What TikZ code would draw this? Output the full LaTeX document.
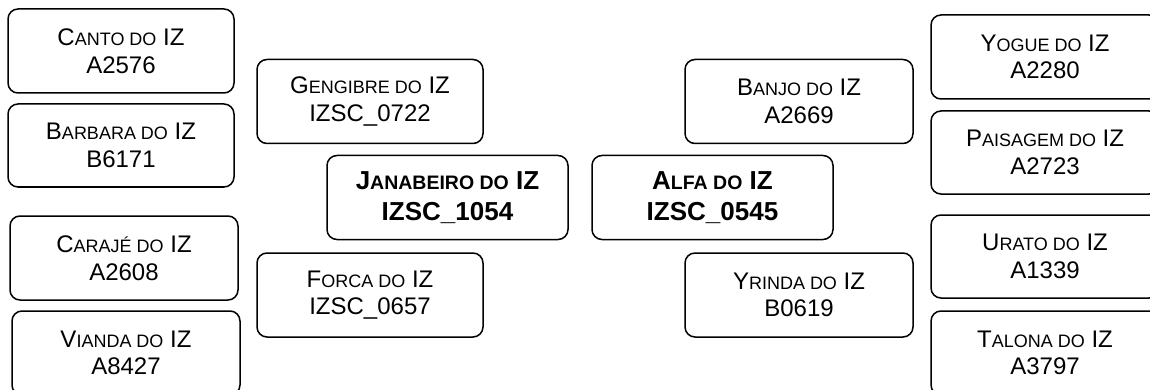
\documentclass[tikz,border=0pt]{standalone}
\usepackage{fontspec}
\setmainfont{Liberation Sans}
% small capitals, faked with smaller upper case letters
\newcommand{\sml}[1]{{\fontsize{18}{18}\selectfont #1}}
\newcommand{\bsml}[1]{{\fontsize{19.5}{19.5}\selectfont #1}}
\begin{document}
\begin{tikzpicture}[x=1pt, y=-1pt,
  strain/.style={draw, line width=1.5pt, rounded corners=10pt,
    minimum width=226pt, minimum height=84pt, inner sep=0pt,
    align=center, font=\fontsize{24}{27.5}\selectfont},
  hub/.style={strain, minimum width=241pt,
    font=\bfseries\fontsize{26}{31}\selectfont}]
  \path[use as bounding box, clip] (0,0) rectangle (1150,390);
  % left column
  \node[strain] (canto) at (121,51) {C\sml{ANTO DO} IZ\\A2576};
  \node[strain, minimum height=83pt] (barbara) at (121,145.5) {B\sml{ARBARA DO} IZ\\B6171};
  \node[strain, minimum width=228pt] (caraje) at (124,258) {C\sml{ARAJÉ DO} IZ\\A2608};
  \node[strain, minimum width=228pt] (vianda) at (126,353) {V\sml{IANDA DO} IZ\\A8427};
  % second column
  \node[strain] (gengibre) at (370,101.5) {G\sml{ENGIBRE DO} IZ\\IZSC\_0722};
  \node[strain] (forca) at (370,295) {F\sml{ORCA DO} IZ\\IZSC\_0657};
  % centre
  \node[hub] (janabeiro) at (447.5,197.5) {J\bsml{ANABEIRO DO} IZ\\IZSC\_1054};
  \node[hub] (alfa) at (712.5,197.5) {A\bsml{LFA DO} IZ\\IZSC\_0545};
  % third column
  \node[strain, minimum width=228pt] (banjo) at (799,101.5) {B\sml{ANJO DO} IZ\\A2669};
  \node[strain, minimum width=228pt] (yrinda) at (799,295) {Y\sml{RINDA DO} IZ\\B0619};
  % right column
  \node[strain, minimum width=228pt] (yogue) at (1045,57) {Y\sml{OGUE DO} IZ\\A2280};
  \node[strain, minimum width=228pt, minimum height=83pt] (paisagem) at (1045,152.5) {P\sml{AISAGEM DO} IZ\\A2723};
  \node[strain, minimum width=228pt, minimum height=83pt] (urato) at (1045,256.5) {U\sml{RATO DO} IZ\\A1339};
  \node[strain, minimum width=228pt] (talona) at (1045,353) {T\sml{ALONA DO} IZ\\A3797};
\end{tikzpicture}
\end{document}
